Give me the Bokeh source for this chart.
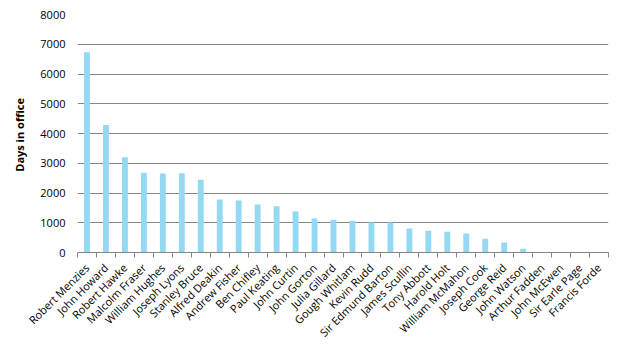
from bokeh.plotting import figure
from bokeh.models import FixedTicker, ColumnDataSource, Range1d
from bokeh.embed import file_html
from bokeh.resources import INLINE

names = ["Robert Menzies", "John Howard", "Robert Hawke", "Malcolm Fraser", "William Hughes",
         "Joseph Lyons", "Stanley Bruce", "Alfred Deakin", "Andrew Fisher", "Ben Chifley",
         "Paul Keating", "John Curtin", "John Gorton", "Julia Gillard", "Gough Whitlam",
         "Kevin Rudd", "Sir Edmund Barton", "James Scullin", "Tony Abbott", "Harold Holt",
         "William McMahon", "Joseph Cook", "George Reid", "John Watson", "Arthur Fadden",
         "John McEwen", "Sir Earle Page", "Francis Forde"]
days = [6735, 4284, 3201, 2677, 2658, 2660, 2446, 1782, 1750, 1615,
        1554, 1374, 1144, 1105, 1071, 1010, 1005, 806, 735, 700,
        636, 465, 340, 125, 0, 0, 0, 0]
y_ticks = [0, 1000, 2000, 3000, 4000, 5000, 6000, 7000, 8000]

n = len(names)
centers = [i + 0.5 for i in range(n)]
bounds = [float(i) for i in range(n + 1)]

src = ColumnDataSource(dict(x=centers, top=days))

p = figure(width=624, height=352, output_backend="svg", toolbar_location=None,
           x_range=Range1d(0, n), y_range=Range1d(0, 8000),
           min_border_left=77, min_border_right=16, min_border_top=14, min_border_bottom=100)
p.outline_line_color = None
p.background_fill_color = "white"
p.border_fill_color = "white"

p.vbar(x="x", top="top", width=0.31, source=src, color="#93D9F4", line_color=None)

font = "Open Sans"
xa = p.xaxis[0]
xa.ticker = FixedTicker(ticks=centers, minor_ticks=bounds)
xa.major_label_overrides = {c: nm for c, nm in zip(centers, names)}
xa.major_label_orientation = 0.785398
xa.major_tick_line_color = None
xa.major_tick_out = 0
xa.major_tick_in = 0
xa.minor_tick_line_color = "#868686"
xa.minor_tick_out = 5
xa.minor_tick_in = 0
xa.axis_line_color = "#868686"
xa.axis_line_width = 1
xa.major_label_text_font = font
xa.major_label_text_font_size = "11px"
xa.major_label_text_color = "#000000"
xa.major_label_standoff = 8

ya = p.yaxis[0]
ya.ticker = FixedTicker(ticks=y_ticks)
ya.axis_line_color = None
ya.major_tick_line_color = None
ya.minor_tick_line_color = None
ya.major_tick_out = 0
ya.major_tick_in = 0
ya.major_label_text_font = font
ya.major_label_text_font_size = "11px"
ya.major_label_text_color = "#000000"
ya.major_label_standoff = 12
ya.axis_label = "Days  in office"
ya.axis_label_text_font = font
ya.axis_label_text_font_size = "11px"
ya.axis_label_text_font_style = "bold"
ya.axis_label_text_color = "#000000"
ya.axis_label_standoff = 10

p.xgrid.grid_line_color = None
p.ygrid.ticker = FixedTicker(ticks=y_ticks)
p.ygrid.grid_line_color = "#868686"
p.ygrid.grid_line_width = 1

open("out.html", "w").write(file_html(p, INLINE))
